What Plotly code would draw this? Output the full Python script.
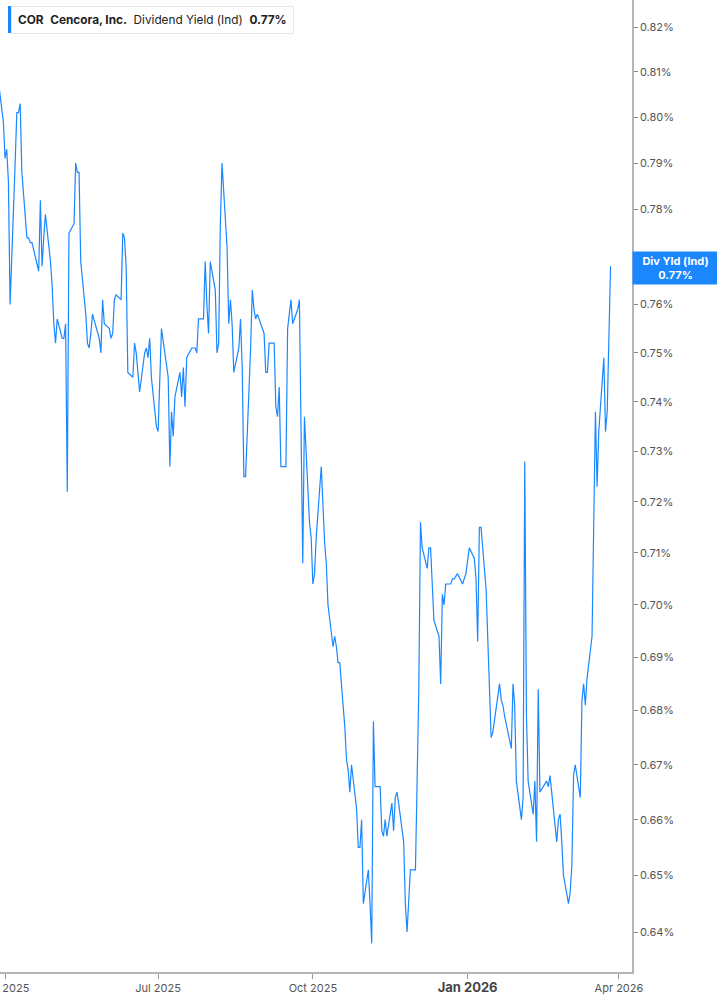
import numpy as np
import pandas as pd
import plotly.graph_objs as go

# dividend yield (ind), %, one value per trading day
div_yield = [
    0.808, 0.799, 0.791, 0.793, 0.786, 0.760, 0.790, 0.801, 0.801, 0.803,
    0.788, 0.774, 0.774, 0.773, 0.773, 0.767, 0.782, 0.768, 0.774, 0.779,
    0.769, 0.764, 0.756, 0.752, 0.757, 0.753, 0.753, 0.756, 0.722, 0.775,
    0.777, 0.790, 0.788, 0.788, 0.769, 0.758, 0.752, 0.751, 0.754, 0.758,
    0.753, 0.750, 0.761, 0.756, 0.755, 0.753, 0.754, 0.761, 0.762, 0.761,
    0.775, 0.774, 0.768, 0.746, 0.745, 0.752, 0.750, 0.742,
    0.750, 0.751, 0.749, 0.753, 0.745, 0.735, 0.734, 0.746, 0.755, 0.745,
    0.727, 0.738, 0.733, 0.741, 0.746, 0.741, 0.747, 0.739, 0.749, 0.751,
    0.751, 0.751, 0.750, 0.757, 0.757, 0.769, 0.760, 0.754, 0.769, 0.763,
    0.750, 0.752, 0.777, 0.790, 0.772, 0.756, 0.761, 0.756, 0.746, 0.751,
    0.757, 0.747, 0.725, 0.725, 0.751, 0.763, 0.759, 0.757, 0.758, 0.754,
    0.746, 0.746, 0.752, 0.752, 0.739, 0.737, 0.743, 0.727, 0.727, 0.755,
    0.758, 0.761, 0.756, 0.759, 0.761, 0.735, 0.708, 0.737, 0.716, 0.713,
    0.704, 0.706, 0.713, 0.727, 0.719, 0.712, 0.708, 0.700, 0.692, 0.694,
    0.692, 0.689, 0.689, 0.677, 0.671, 0.669, 0.665, 0.670, 0.662, 0.655,
    0.655, 0.660, 0.645, 0.651, 0.645, 0.638, 0.678, 0.666, 0.666, 0.658,
    0.657, 0.660, 0.657, 0.663, 0.658, 0.664, 0.665, 0.663, 0.656, 0.645,
    0.640, 0.651, 0.651, 0.666, 0.684, 0.716, 0.711, 0.707, 0.711, 0.711,
    0.704, 0.697, 0.694, 0.685, 0.702, 0.700, 0.704, 0.704, 0.705, 0.705,
    0.706, 0.704, 0.705, 0.706, 0.711, 0.709, 0.705, 0.693, 0.715,
    0.715, 0.703, 0.694, 0.686, 0.675, 0.676, 0.685, 0.682, 0.681, 0.679,
    0.674, 0.673, 0.685, 0.681, 0.667, 0.660, 0.664, 0.728, 0.679, 0.667,
    0.661, 0.667, 0.656, 0.684, 0.665, 0.667, 0.666, 0.668, 0.665, 0.656,
    0.660, 0.661, 0.656, 0.650, 0.645, 0.647, 0.652, 0.668, 0.670, 0.664,
    0.682, 0.685, 0.681, 0.686, 0.694, 0.715, 0.738, 0.723, 0.734, 0.749,
    0.734, 0.738, 0.753, 0.768,
]

market_holidays = ["2025-04-18", "2025-05-26", "2025-06-19", "2025-07-04",
                   "2025-09-01", "2025-11-27", "2025-12-25", "2026-01-01",
                   "2026-01-19", "2026-02-16"]
dates = pd.bdate_range(end="2026-03-27", periods=len(div_yield),
                       freq="C", holidays=market_holidays)

y_ticks = [0.64, 0.65, 0.66, 0.67, 0.68, 0.69, 0.70, 0.71, 0.72, 0.73,
           0.74, 0.75, 0.76, 0.77, 0.78, 0.79, 0.80, 0.81, 0.82]
# 0.77% sits under the last-value tag, so its label is not shown
y_ticktext = ["" if v == 0.77 else "%.2f%%" % v for v in y_ticks]
x_ticks = ["2025-04-01", "2025-07-01", "2025-10-01", "2026-01-01", "2026-04-01"]
x_ticktext = ["Apr 2025", "Jul 2025", "Oct 2025",
              "<b><span style='color:#444;font-size:13px'>Jan 2026</span></b>",
              "Apr 2026"]

blue = "#1a87ff"
last = div_yield[-1]

fig = go.Figure()
fig.add_trace(go.Scatter(x=dates, y=div_yield, mode="lines",
                         line=dict(color=blue, width=1.2),
                         name="Div Yld (Ind)", showlegend=False))

fig.update_layout(
    width=717, height=1005,
    margin=dict(l=0, r=85, t=0, b=33),
    paper_bgcolor="white", plot_bgcolor="white",
    font=dict(family="Inter", size=11, color="#555"),
    xaxis=dict(range=["2025-03-29", "2026-04-08 18:00"],
               tickvals=x_ticks, ticktext=x_ticktext,
               ticklabeloverflow="allow", automargin=False,
               showgrid=False, zeroline=False,
               showline=True, linecolor="#b5b5b5", linewidth=1.5,
               ticks="outside", ticklen=5, tickcolor="#999",
               tickfont=dict(size=11, color="#555")),
    yaxis=dict(type="log", side="right", automargin=False,
               range=[np.log10(0.63303), np.log10(0.82609)],
               tickvals=y_ticks, ticktext=y_ticktext,
               showgrid=False, zeroline=False,
               showline=True, linecolor="#b5b5b5", linewidth=1.5,
               ticks="outside", ticklen=4, tickcolor="#888",
               tickfont=dict(size=11, color="#555")),
)

# header box, top left
fig.add_annotation(
    xref="paper", yref="paper", x=11 / 632, y=1 - 6 / 972,
    xanchor="left", yanchor="top", showarrow=False, align="left",
    text=("<b>COR</b>&nbsp;&nbsp;<b>Cencora, Inc.</b>&nbsp;&nbsp;"
          "Dividend Yield (Ind)&nbsp;&nbsp;<b>0.77%</b>"),
    font=dict(family="Inter", size=11.8, color="#222"),
    bgcolor="white", bordercolor="#e6e6e6", borderwidth=1, borderpad=6,
)
fig.add_shape(type="rect", xref="paper", yref="paper",
              x0=8 / 632, x1=11 / 632, y0=1 - 33 / 972, y1=1 - 6 / 972,
              fillcolor=blue, line=dict(width=0))

# last value tag on the right axis
fig.add_annotation(
    xref="paper", yref="y", x=1, y=np.log10(last),
    xanchor="left", yanchor="middle", showarrow=False, yshift=-2,
    text="<b>Div Yld (Ind)<br>0.77%</b>",
    font=dict(family="Inter", size=11, color="white"),
    bgcolor=blue, borderpad=2, width=81,
)

fig.write_html("out.html", config={"displayModeBar": False},
               post_script="document.body.style.margin='0';")
